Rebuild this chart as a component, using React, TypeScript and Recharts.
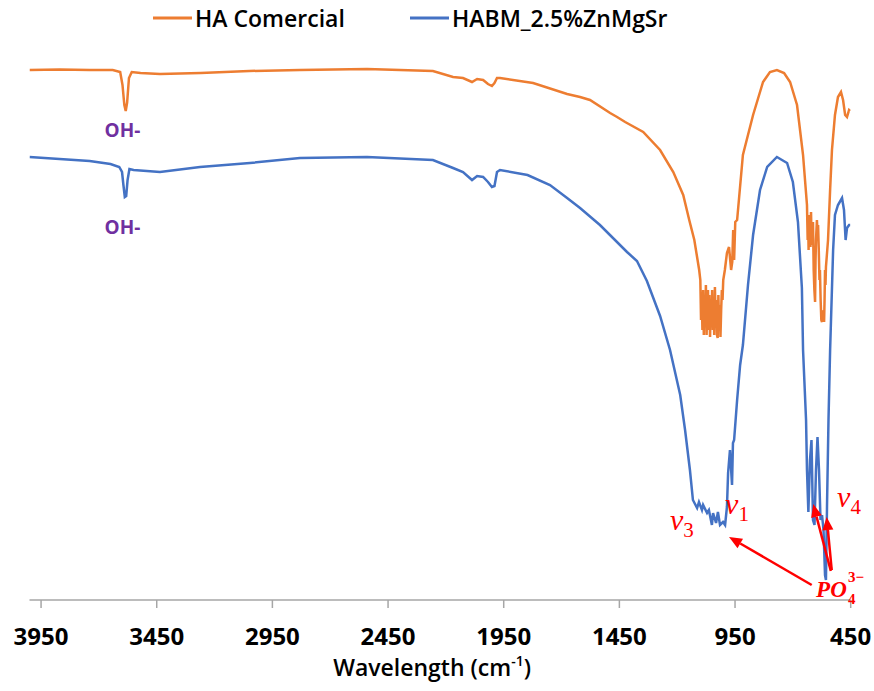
import React from "react";
import {
  LineChart,
  Line,
  XAxis,
  YAxis,
  Legend,
  ReferenceLine,
  ReferenceDot,
} from "recharts";

// FTIR spectra, wavenumber (cm-1) vs transmittance (a.u.)
const haWavenumber = [
  4000, 3870, 3740, 3640, 3608, 3598, 3590, 3584, 3578, 3570,
  3558, 3520, 3436, 3260, 3050, 2831, 2541, 2256, 2169, 2126,
  2087, 2065, 2039, 2018, 2001, 1990, 1979, 1966, 1823, 1676,
  1620, 1577, 1490, 1460, 1425, 1347, 1274, 1217, 1174, 1148,
  1126, 1105,
  1100, 1097, 1094, 1091, 1088, 1085, 1082, 1079, 1076, 1073,
  1070, 1067, 1064, 1061, 1058, 1055, 1052, 1049, 1046, 1043,
  1040, 1037, 1034, 1031, 1028, 1025, 1022, 1019, 1016, 1013,
  1010, 1007, 1004, 1001,
  994, 985, 976, 967, 962, 958, 954, 949, 941, 916,
  872, 829, 799, 769, 738, 712, 682, 656,
  639, 636, 634, 632, 630, 628, 626, 624, 621.5, 619,
  617, 615, 613, 610, 607, 604, 602, 600, 598, 596,
  593, 591, 588, 585, 583, 580, 577, 574, 572, 570,
  567, 565, 563, 561, 559, 557, 553, 548,
  539, 531, 518, 505, 492, 483, 474, 466, 457, 452,
];
const haTransmittance = [
  106, 106.1, 106, 106, 105.6, 103, 99, 97.8, 99.5, 104.4,
  105.6, 105.4, 105.2, 105.4, 105.8, 106, 106.2, 105.8, 104.6, 104.4,
  103.6, 104.2, 104, 103.2, 102.8, 103.4, 104.4, 104.4, 103.4, 101.2,
  100.6, 100, 97.4, 96.6, 95.6, 93.6, 90, 85.6, 81, 76,
  72, 66,
  64, 56, 61, 54, 62, 53, 60, 55, 63, 53,
  58, 62, 54, 61, 52.6, 59, 55, 62, 54, 60,
  53, 62.6, 56, 60, 53, 52.4, 61, 55, 59, 52.6,
  58, 62, 60, 64,
  66, 69.4, 70.6, 66, 67.6, 74, 68, 75.6, 76, 89,
  97, 103.6, 105.6, 106, 105.4, 103.6, 99, 89,
  79, 72, 76, 70, 77, 71, 74, 70.6, 77.6, 71,
  74, 72, 75.6, 66, 62, 59.6, 68, 72, 74, 76,
  73, 75, 70, 64, 66, 60, 56, 55.6, 57, 56,
  58, 55.6, 60, 66, 63, 66.6, 69, 72,
  82, 90, 97, 100.6, 101.6, 100, 97, 96.6, 98, 97.8,
];

const habmWavenumber = [
  4000, 3870, 3740, 3650, 3612, 3600, 3594, 3588, 3582, 3576,
  3568, 3550, 3436, 3263, 3047, 2831, 2541, 2256, 2169, 2126,
  2087, 2065, 2039, 2018, 2001, 1990, 1979, 1966, 1847, 1750,
  1676, 1620, 1534, 1417, 1374, 1331, 1274, 1231, 1187, 1166,
  1145, 1132, 1114, 1106, 1093, 1088, 1071, 1063, 1050, 1045,
  1032, 1024, 1015, 1002, 993, 985, 980, 972, 963, 959,
  954, 941, 928, 916, 894, 872, 842, 811, 769, 725,
  700, 678, 661, 656, 643, 639, 633, 626, 619.5, 613,
  606.5, 600, 593.5, 587, 580.5, 574, 567.5, 561, 557, 552,
  546, 539, 526, 518, 505, 487.5, 479, 472, 466, 457,
  452,
];
const habmTransmittance = [
  88.6, 88.2, 87.8, 87.2, 86.6, 85.6, 83, 80.6, 80.8, 84,
  86.2, 86, 85.6, 86.6, 87.4, 88.4, 88.6, 88, 86.4, 85.6,
  84, 84.8, 84.6, 83.6, 82.6, 82.8, 85.6, 86, 85, 83,
  80.4, 78.4, 75, 69.6, 67.8, 63.8, 56.8, 50, 41, 34,
  26, 20, 18.4, 19.6, 18, 19, 17.4, 18, 15, 17.4,
  15.4, 17.6, 15, 15.6, 15, 18.6, 25.4, 30, 23, 31.4,
  32, 40, 47, 51, 63, 73, 82, 86.6, 88.6, 87.4,
  83.6, 75.6, 62.4, 50, 36, 26, 17.6, 28, 32, 16,
  15, 26, 32.6, 26, 16, 17, 14, 5, 4, 20,
  36, 50, 70, 77, 79, 80.4, 78, 72, 74.4, 75,
  75,
];

const xTicks = [3950, 3450, 2950, 2450, 1950, 1450, 950, 450];
const seriesNames = ["HA Comercial", "HABM_2.5%ZnMgSr"];

// annotations (data coordinates)
const ohLabelX = [3598, 3598];
const ohLabelY = [94, 74.6];
const modeLabels = ["3", "1", "4"];
const modeLabelX = [1231, 993, 509];
const modeLabelY = [14, 17.2, 18.6];
const arrowFrom = [
  { x: 618.5, y: 3 },
  { x: 536, y: 5.8 },
  { x: 532, y: 6 },
];
const arrowTo = [
  { x: 976, y: 12.6 },
  { x: 612, y: 19.2 },
  { x: 554, y: 16.6 },
];
const phosphateAt = { x: 591, y: 0.6 };

const haData = haWavenumber.map((w, i) => ({ w, t: haTransmittance[i] }));
const habmData = habmWavenumber.map((w, i) => ({ w, t: habmTransmittance[i] }));

const ORANGE = "#ED7D31";
const BLUE = "#4472C4";
const RED = "#FF0000";
const PURPLE = "#7030A0";
const AXIS = "#a6a6a6";
const FONT = "'Open Sans', sans-serif";
const SERIF = "'Liberation Serif', 'DejaVu Serif', serif";

const ArrowShape = (props: any) => {
  const { x1, y1, x2, y2 } = props;
  const ang = Math.atan2(y2 - y1, x2 - x1);
  const head = 13;
  const half = 5.5;
  const bx = x2 - head * Math.cos(ang);
  const by = y2 - head * Math.sin(ang);
  const px = -Math.sin(ang) * half;
  const py = Math.cos(ang) * half;
  return (
    <g>
      <line x1={x1} y1={y1} x2={bx} y2={by} stroke={RED} strokeWidth={2.5} />
      <polygon
        points={`${x2},${y2} ${bx + px},${by + py} ${bx - px},${by - py}`}
        fill={RED}
      />
    </g>
  );
};

const renderAxisTitle = (props: any) => {
  const { x, y, width } = props.viewBox;
  return (
    <text
      x={x + width / 2 - 8}
      y={y + 76}
      textAnchor="middle"
      fontFamily={FONT}
      fontWeight={600}
      fontSize={23}
      fill="#000"
    >
      Wavelength (cm
      <tspan fontSize={14} dy={-10}>
        -1
      </tspan>
      <tspan dy={10}>)</tspan>
    </text>
  );
};

const LegendBox = () => {
  const colors = [ORANGE, BLUE];
  const lefts = [153, 410];
  return (
    <div style={{ position: "relative", width: 874, height: 40 }}>
      {seriesNames.map((name, i) => (
        <div
          key={name}
          style={{
            position: "absolute",
            left: lefts[i],
            top: 3,
            display: "flex",
            alignItems: "center",
            whiteSpace: "nowrap",
          }}
        >
          <svg width={40} height={30}>
            <line x1={0} y1={15} x2={39} y2={15} stroke={colors[i]} strokeWidth={3} />
          </svg>
          <span
            style={{
              fontFamily: FONT,
              fontWeight: 600,
              fontSize: 23,
              color: "#000",
              marginLeft: 2,
              lineHeight: "30px",
            }}
          >
            {name}
          </span>
        </div>
      ))}
    </div>
  );
};

export default function App() {
  return (
    <div style={{ position: "absolute", left: 0, top: 0 }}>
      <LineChart
        width={874}
        height={691}
        margin={{ top: 0, right: 23.3, bottom: 11, left: 29.5 }}
      >
        <XAxis
          type="number"
          dataKey="w"
          domain={[450, 4000]}
          reversed
          allowDataOverflow
          ticks={xTicks}
          interval={0}
          height={80}
          tickSize={8}
          tickMargin={20}
          axisLine={{ stroke: AXIS, strokeWidth: 1.5 }}
          tickLine={{ stroke: AXIS, strokeWidth: 1.5 }}
          tick={{ fill: "#000", fontSize: 24, fontWeight: 700, fontFamily: FONT }}
          label={renderAxisTitle}
        />
        <YAxis type="number" domain={[0, 112]} hide allowDataOverflow />
        <Legend
          verticalAlign="top"
          wrapperStyle={{ left: 0, width: 874 }}
          content={() => <LegendBox />}
        />
        <Line
          data={haData}
          dataKey="t"
          name={seriesNames[0]}
          type="linear"
          stroke={ORANGE}
          strokeWidth={2.5}
          dot={false}
          isAnimationActive={false}
        />
        <Line
          data={habmData}
          dataKey="t"
          name={seriesNames[1]}
          type="linear"
          stroke={BLUE}
          strokeWidth={2.5}
          dot={false}
          isAnimationActive={false}
        />
        {ohLabelX.map((x, i) => (
          <ReferenceDot
            key={`oh-${i}`}
            x={x}
            y={ohLabelY[i]}
            r={0}
            ifOverflow="visible"
            shape={(p: any) => (
              <text
                x={p.cx}
                y={p.cy}
                textAnchor="middle"
                dominantBaseline="central"
                fontFamily={FONT}
                fontWeight={700}
                fontSize={19}
                fill={PURPLE}
              >
                OH-
              </text>
            )}
          />
        ))}
        {arrowFrom.map((from, i) => (
          <ReferenceLine
            key={`arrow-${i}`}
            segment={[from, arrowTo[i]]}
            ifOverflow="visible"
            shape={ArrowShape}
          />
        ))}
        {modeLabels.map((sub, i) => (
          <ReferenceDot
            key={`mode-${i}`}
            x={modeLabelX[i]}
            y={modeLabelY[i]}
            r={0}
            ifOverflow="visible"
            shape={(p: any) => (
              <text x={p.cx} y={p.cy} fontFamily={SERIF} fontSize={30} fill={RED}>
                <tspan fontStyle="italic">v</tspan>
                <tspan fontSize={21} dy={7}>
                  {sub}
                </tspan>
              </text>
            )}
          />
        ))}
        <ReferenceDot
          x={phosphateAt.x}
          y={phosphateAt.y}
          r={0}
          ifOverflow="visible"
          shape={(p: any) => (
            <g fill={RED} fontFamily={SERIF} fontWeight={700}>
              <text x={p.cx - 2} y={p.cy} fontSize={23} fontStyle="italic">
                PO
              </text>
              <text x={p.cx + 30} y={p.cy + 7} fontSize={15}>
                4
              </text>
              <text x={p.cx + 30} y={p.cy - 15} fontSize={15}>
                3−
              </text>
            </g>
          )}
        />
      </LineChart>
    </div>
  );
}
